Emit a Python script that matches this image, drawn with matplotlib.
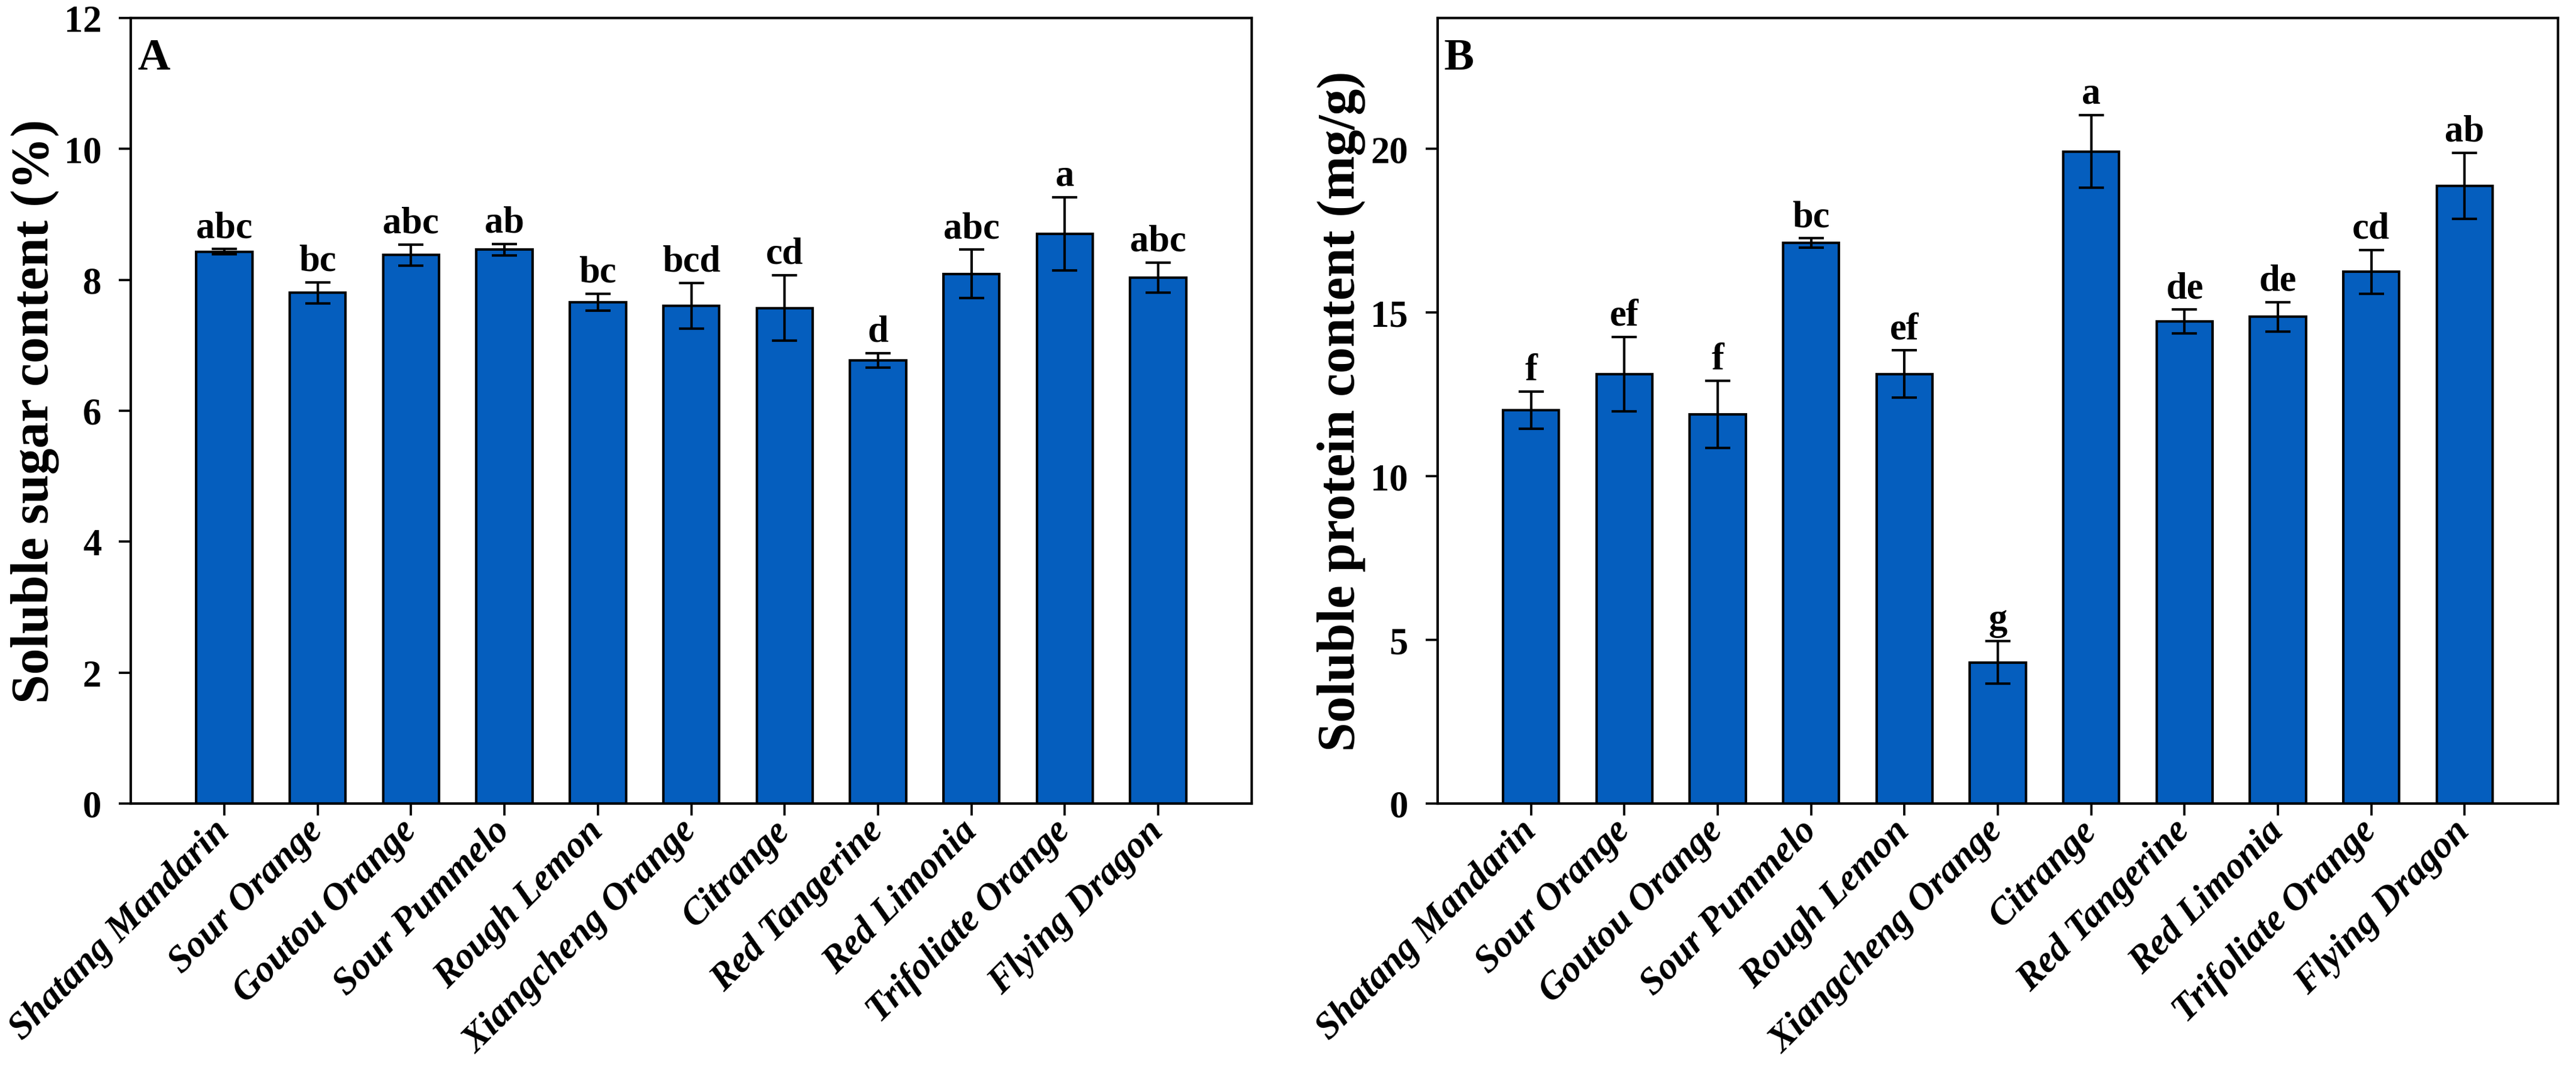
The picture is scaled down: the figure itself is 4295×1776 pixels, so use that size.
"""Soluble sugar (A) and soluble protein (B) content of eleven citrus rootstocks.

Two side-by-side bar panels with SE error bars and significance letters.
"""

import matplotlib

matplotlib.use("Agg")
import matplotlib.pyplot as plt
import numpy as np

# ── data ────────────────────────────────────────────────────────────────

CULTIVARS = [
    "Shatang Mandarin",
    "Sour Orange",
    "Goutou Orange",
    "Sour Pummelo",
    "Rough Lemon",
    "Xiangcheng Orange",
    "Citrange",
    "Red Tangerine",
    "Red Limonia",
    "Trifoliate Orange",
    "Flying Dragon",
]

SUGAR_MEAN = [8.43, 7.80, 8.38, 8.46, 7.66, 7.60, 7.57, 6.77, 8.09, 8.70, 8.03]
SUGAR_ERR = [0.04, 0.16, 0.16, 0.09, 0.13, 0.35, 0.50, 0.11, 0.37, 0.56, 0.23]
SUGAR_LETTERS = ["abc", "bc", "abc", "ab", "bc", "bcd", "cd", "d", "abc", "a", "abc"]

PROTEIN_MEAN = [12.01, 13.12, 11.89, 17.13, 13.12, 4.31, 19.92, 14.73, 14.87, 16.24, 18.87]
PROTEIN_ERR = [0.57, 1.14, 1.02, 0.14, 0.72, 0.65, 1.11, 0.36, 0.45, 0.67, 1.01]
PROTEIN_LETTERS = ["f", "ef", "f", "bc", "ef", "g", "a", "de", "de", "cd", "ab"]

BAR_COLOR = "#055EBE"

plt.rcParams["font.family"] = ["Liberation Serif", "DejaVu Serif"]
plt.rcParams["font.weight"] = "bold"


# ── plotting ────────────────────────────────────────────────────────────

def _bar_panel(ax, means, errs, letters, ylim, yticks, ylabel, tag):
    """Draw one bar panel with error bars and significance letters."""
    x = np.arange(len(CULTIVARS))
    ax.bar(x, means, width=0.6, color=BAR_COLOR, edgecolor="black",
           linewidth=1.0, zorder=2)
    ax.errorbar(x, means, yerr=errs, fmt="none", ecolor="black",
                elinewidth=1.0, capsize=5, capthick=1.0, zorder=3)
    for xi, m, e, lab in zip(x, means, errs, letters):
        ax.annotate(lab, (xi, m + e), xytext=(0, 1.5), textcoords="offset points",
                    ha="center", va="bottom", fontsize=15, fontweight="bold")

    ax.set_xlim(-1, len(CULTIVARS))
    ax.set_ylim(*ylim)
    ax.set_yticks(yticks)
    ax.set_xticks(x)
    ax.set_xticklabels(CULTIVARS, rotation=45, ha="right", va="center",
                       rotation_mode="anchor", fontsize=15,
                       fontweight="bold", fontstyle="italic")
    ax.tick_params(axis="x", direction="out", length=4.8, width=0.9, pad=4)
    ax.tick_params(axis="y", direction="out", length=4.8, width=0.9, pad=7,
                   labelsize=15)
    for lbl in ax.get_yticklabels():
        lbl.set_fontweight("bold")
    for sp in ax.spines.values():
        sp.set_linewidth(1.0)

    ax.set_ylabel(ylabel, fontsize=21, fontweight="bold")
    ax.yaxis.set_label_coords(-0.064, 0.5)
    ax.text(0.006, 0.975, tag, transform=ax.transAxes, ha="left", va="top",
            fontsize=18, fontweight="bold")


def main():
    fig = plt.figure(figsize=(4295 / 300, 1777 / 300), dpi=300)
    ax_a = fig.add_axes([0.0508, 0.2454, 0.4351, 0.7372])
    ax_b = fig.add_axes([0.5581, 0.2454, 0.4349, 0.7372])

    _bar_panel(ax_a, SUGAR_MEAN, SUGAR_ERR, SUGAR_LETTERS,
               (0, 12), np.arange(0, 13, 2),
               "Soluble sugar content (%)", "A")
    _bar_panel(ax_b, PROTEIN_MEAN, PROTEIN_ERR, PROTEIN_LETTERS,
               (0, 24), np.arange(0, 21, 5),
               "Soluble protein content (mg/g)", "B")

    fig.savefig("out.png", dpi=300, facecolor="white")
    plt.close(fig)


if __name__ == "__main__":
    main()
